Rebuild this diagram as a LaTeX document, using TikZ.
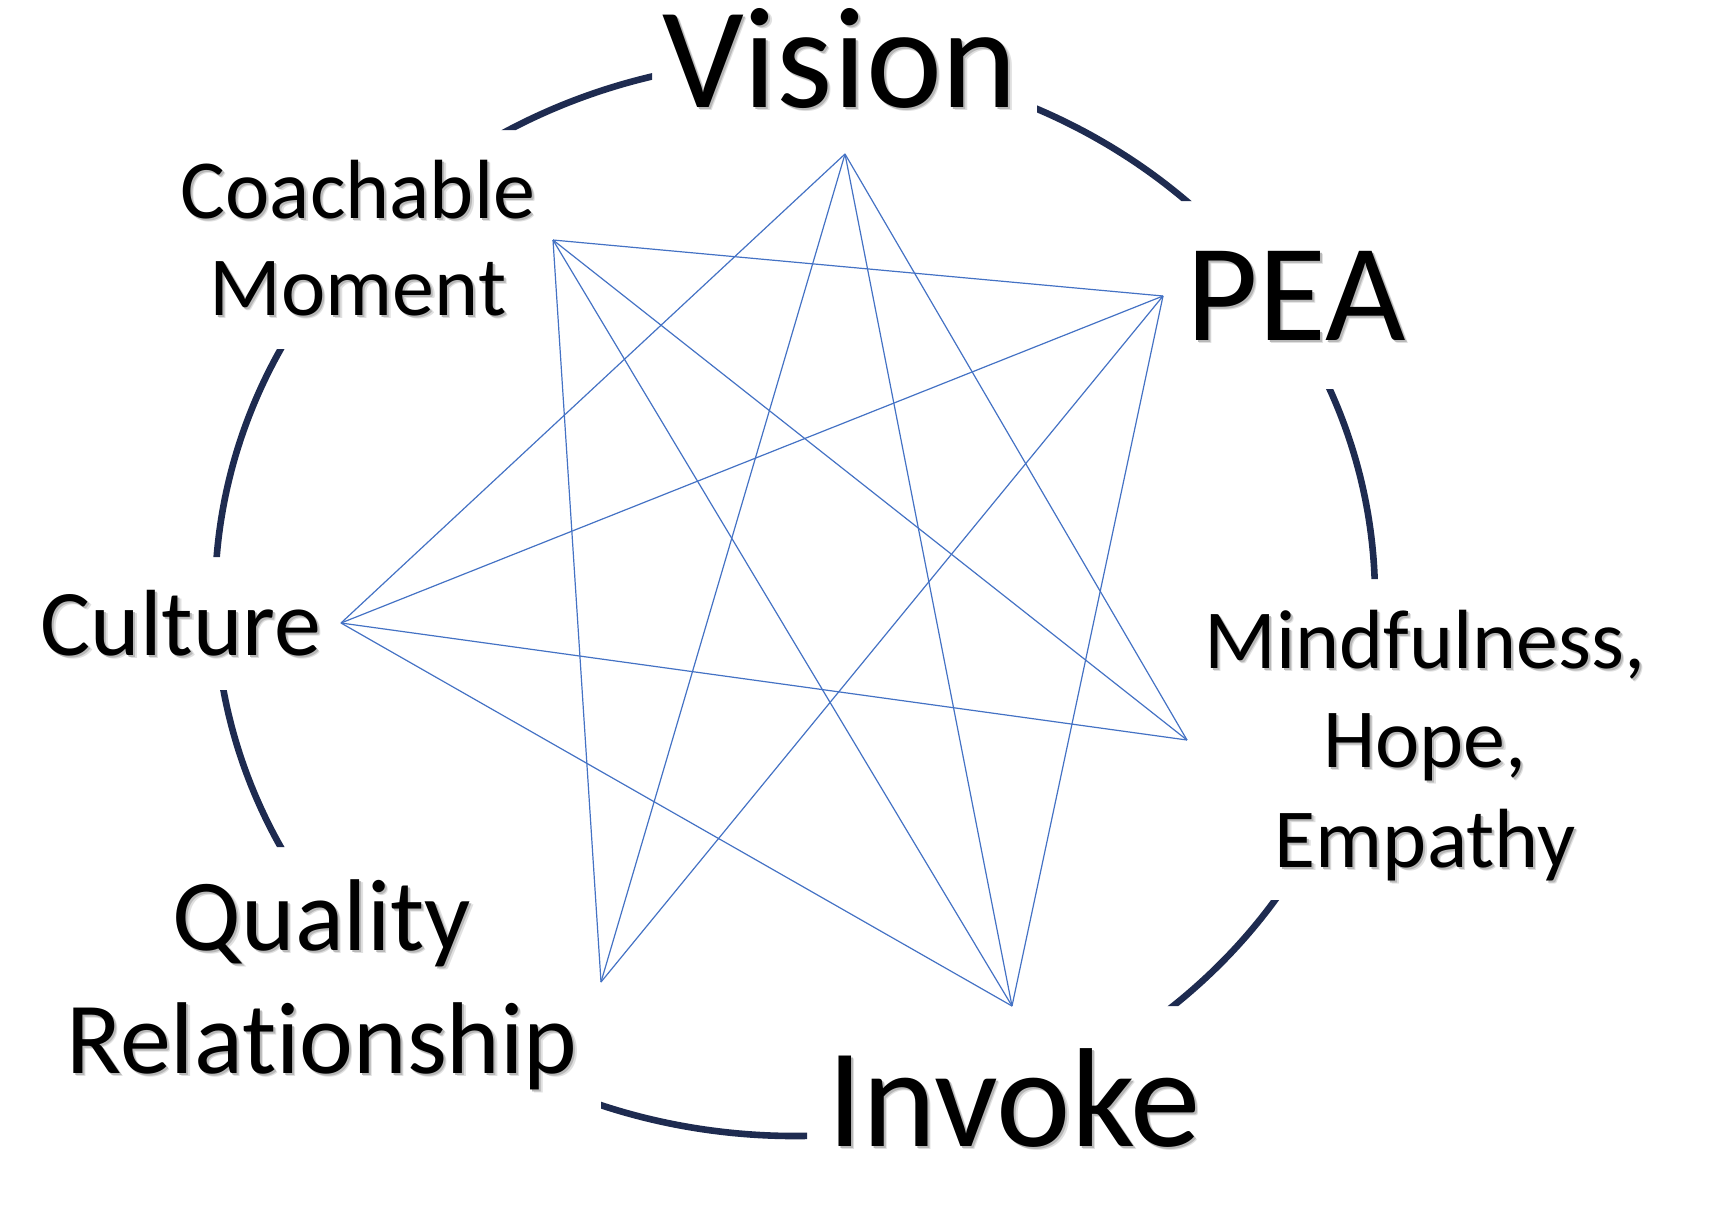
\documentclass[tikz,border=0pt]{standalone}
\usepackage{fontspec}
\setmainfont{Carlito}[Ligatures=NoCommon]
\definecolor{ringnavy}{RGB}{30,43,80}
\definecolor{linkblue}{RGB}{68,114,196}
% soft drop shadow behind a line of text
\newcommand\shtext[1]{\leavevmode
  \rlap{\kern1.6pt\raisebox{-1.6pt}{\textcolor{black!12}{#1}}}%
  \rlap{\kern1.0pt\raisebox{-1.0pt}{\textcolor{black!28}{#1}}}%
  #1}
\tikzset{
  ring/.style={draw=ringnavy, line width=3.3pt},
  link/.style={draw=linkblue, line width=0.6pt},
  label/.style={inner sep=0pt, anchor=base, text=black},
}
\begin{document}
\begin{tikzpicture}[x=0.5pt, y=-0.5pt]
\useasboundingbox (0,0) rectangle (1722,1212);

% outer ring, interrupted by the label areas
\begin{scope}[even odd rule]
  \clip (-10,-10) rectangle (1732,1222)
    (652,-10) rectangle (1037,125)
    (1150,201) rectangle (1460,389)
    (1200,579) rectangle (1700,900)
    (807,1006) rectangle (1250,1222)
    (-10,847) rectangle (601,1222)
    (-10,557) rectangle (300,690)
    (-10,130) rectangle (540,349);
  \draw[ring] (795,598) ellipse [x radius=580, y radius=538];
\end{scope}

% star vertices
\coordinate (v1) at (845,154);
\coordinate (v2) at (1163,296);
\coordinate (v3) at (1187,740);
\coordinate (v4) at (1012,1006);
\coordinate (v5) at (601,982);
\coordinate (v6) at (341,623);
\coordinate (v7) at (553,240);

% links between the vertices
\draw[link] (v1) -- (v3);
\draw[link] (v2) -- (v4);
\draw[link] (v4) -- (v6);
\draw[link] (v5) -- (v7);
\draw[link] (v6) -- (v1);
\draw[link] (v7) -- (v2);
\draw[link] (v1) -- (v4);
\draw[link] (v2) -- (v5);
\draw[link] (v3) -- (v6);
\draw[link] (v4) -- (v7);
\draw[link] (v5) -- (v1);
\draw[link] (v6) -- (v2);
\draw[link] (v7) -- (v3);

% labels
\node[label, font=\fontsize{72}{86}\selectfont] (vision) at (840,107) {\shtext{Vision}};
\node[label, font=\fontsize{69.5}{83}\selectfont] (pea) at (1296,340) {\shtext{PEA}};
\node[label, font=\fontsize{70.5}{84}\selectfont] (invoke) at (1014,1146) {\shtext{Invoke}};
\node[label, font=\fontsize{47}{56}\selectfont] (culture) at (181,655) {\shtext{Culture}};
\node[label, font=\fontsize{42}{48.5}\selectfont] (coach) at (358,218)
  {\begin{tabular}[t]{@{}c@{}}\shtext{Coachable}\\\shtext{Moment}\end{tabular}};
\node[label, font=\fontsize{42}{49.75}\selectfont] (mind) at (1425,668)
  {\begin{tabular}[t]{@{}c@{}}\shtext{Mindfulness,}\\\shtext{Hope,}\\\shtext{Empathy}\end{tabular}};
\node[label, font=\fontsize{51}{61.5}\selectfont] (quality) at (322,950)
  {\begin{tabular}[t]{@{}c@{}}\shtext{Quality}\\\shtext{Relationship}\end{tabular}};
\end{tikzpicture}
\end{document}
